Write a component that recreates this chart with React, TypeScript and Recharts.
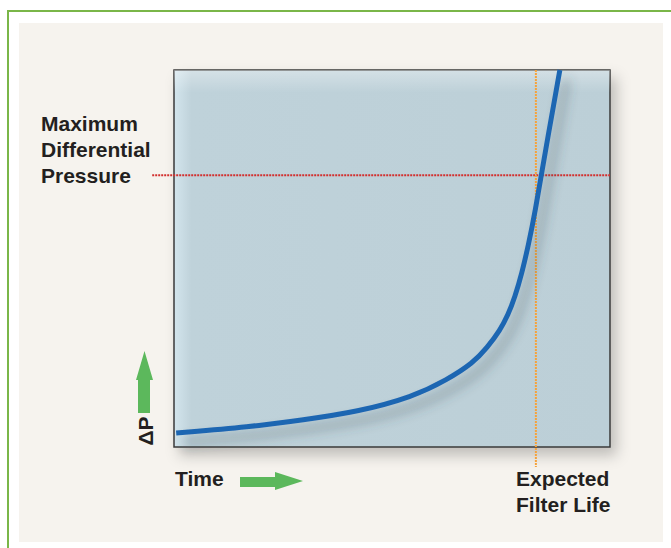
import React from "react";
import { LineChart, Line, XAxis, YAxis, ReferenceArea, ReferenceLine } from "recharts";

// Curve: time (0-100) vs differential pressure (0-100)
const timeValues = [0.5, 17.4, 29.6, 42.0, 54.8, 62.6, 68.6, 71.8, 74.8, 76.6, 78.2, 79.8, 81.2, 82.8, 85.1, 88.5];
const pressureValues = [3.7, 5.3, 7.2, 9.3, 13.3, 17.8, 22.3, 26.3, 31.0, 35.0, 39.8, 46.2, 53.1, 62.1, 78.0, 100];
const maxDifferentialPressure = 72.1;
const expectedFilterLife = 83.0;
const maxLabel = ["Maximum", "Differential", "Pressure"];
const lifeLabel = ["Expected", "Filter Life"];
const timeLabel = "Time";
const pressureLabel = "ΔP";

const data = timeValues.map((t, i) => ({ time: t, dp: pressureValues[i] }));

const FONT = "'Liberation Sans', Arial, Helvetica, sans-serif";
const TEXT = "#231f20";
const GREEN = "#5cb85c";

export default function App() {
  return (
    <div style={{ position: "absolute", left: 0, top: 0, width: 671, height: 548, background: "#ffffff", overflow: "hidden" }}>
      <div style={{ position: "absolute", left: 7, top: 10, width: 700, height: 600, border: "2px solid #7ab648", boxSizing: "border-box" }} />
      <div style={{ position: "absolute", left: 19, top: 23, width: 644, height: 519, background: "#f6f3ee" }} />
      <div style={{ position: "absolute", left: 0, top: 0 }}>
        <LineChart width={671} height={548} data={data} margin={{ top: 70, right: 61, bottom: 101, left: 174 }}>
          <defs>
            <linearGradient id="bgH" x1="0" y1="0" x2="1" y2="0">
              <stop offset="0" stopColor="#d3e5ed" />
              <stop offset="0.04" stopColor="#bfd2da" />
              <stop offset="1" stopColor="#bccfd7" />
            </linearGradient>
            <linearGradient id="bgV" x1="0" y1="0" x2="0" y2="1">
              <stop offset="0" stopColor="#ffffff" stopOpacity={0.35} />
              <stop offset="0.06" stopColor="#ffffff" stopOpacity={0} />
              <stop offset="1" stopColor="#ffffff" stopOpacity={0} />
            </linearGradient>
            <filter id="boxShadow" x="-10%" y="-10%" width="130%" height="130%">
              <feDropShadow dx="6" dy="8" stdDeviation="7" floodColor="#000000" floodOpacity="0.22" />
            </filter>
            <filter id="lineShadow" x="-20%" y="-20%" width="140%" height="140%">
              <feDropShadow dx="7" dy="9" stdDeviation="6" floodColor="#3d4a55" floodOpacity="0.45" />
            </filter>
          </defs>
          <XAxis type="number" dataKey="time" domain={[0, 100]} hide />
          <YAxis type="number" domain={[0, 100]} hide />
          <ReferenceArea x1={0} x2={100} y1={0} y2={100} fill="url(#bgH)" fillOpacity={1} stroke="#3a3a3a" strokeWidth={1.5} filter="url(#boxShadow)" />
          <ReferenceArea x1={0} x2={100} y1={0} y2={100} fill="url(#bgV)" fillOpacity={1} stroke="none" />
          <ReferenceLine
            segment={[{ x: -5, y: maxDifferentialPressure }, { x: 100, y: maxDifferentialPressure }]}
            stroke="#d2302f"
            strokeWidth={2}
            strokeDasharray="2 1"
            ifOverflow="visible"
          />
          <ReferenceLine
            segment={[{ x: expectedFilterLife, y: 100 }, { x: expectedFilterLife, y: -5.3 }]}
            stroke="#f5a23c"
            strokeWidth={2}
            strokeDasharray="2 1"
            ifOverflow="visible"
          />
          <Line
            type="basis"
            dataKey="dp"
            stroke="#1f66b2"
            strokeWidth={5}
            dot={false}
            activeDot={false}
            isAnimationActive={false}
            filter="url(#lineShadow)"
          />
        </LineChart>
      </div>
      <svg width={671} height={548} style={{ position: "absolute", left: 0, top: 0, pointerEvents: "none" }}>
        <g fontFamily={FONT} fontWeight="bold" fontSize={21} fill={TEXT}>
          {maxLabel.map((s, i) => (
            <text key={s} x={41} y={131 + i * 26}>{s}</text>
          ))}
          {lifeLabel.map((s, i) => (
            <text key={s} x={516} y={486 + i * 26}>{s}</text>
          ))}
          <text x={175} y={486}>{timeLabel}</text>
          <text transform="translate(153,431) rotate(-90)" textAnchor="middle">{pressureLabel}</text>
        </g>
        <polygon points="138,413 150,413 150,380 153,380 144.5,351 136,380 138,380" fill={GREEN} />
        <polygon points="240,477 275,477 275,472 303,481 275,490 275,487 240,487" fill={GREEN} />
      </svg>
    </div>
  );
}
